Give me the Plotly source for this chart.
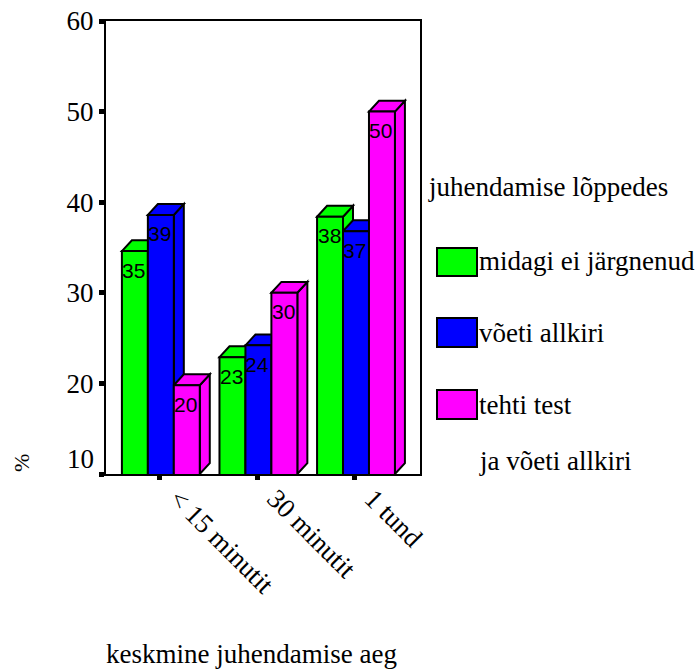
import plotly.graph_objects as go

categories = ["< 15 minutit", "30 minutit", "1 tund"]
series_names = ["midagi ei järgnenud", "võeti allkiri", "tehti test"]
series_colors = ["#00ff00", "#0000ff", "#ff00ff"]
values_green = [34.6, 22.9, 38.4]
values_blue = [38.6, 24.2, 36.8]
values_magenta = [19.8, 30.0, 50.0]
labels_green = ["35", "23", "38"]
labels_blue = ["39", "24", "37"]
labels_magenta = ["20", "30", "50"]
y_ticks = [10, 20, 30, 40, 50, 60]

series_values = [values_green, values_blue, values_magenta]
series_labels = [labels_green, labels_blue, labels_magenta]

W, H = 698, 669
L, R, T, B = 106, 420, 21, 474
SERIF = "Liberation Serif"
SANS = "Liberation Sans"
LW = 2
BAR_W = 0.266
OFFSETS = [-0.385, -0.119, 0.147]
DX = 0.1025
DY = 1.2

fig = go.Figure()
shapes = []
annotations = []

for s, (name, color, vals, labs) in enumerate(zip(series_names, series_colors, series_values, series_labels)):
    fig.add_trace(go.Bar(
        x=categories, y=vals, name=name, width=BAR_W, offset=OFFSETS[s],
        marker=dict(color=color, line=dict(color="black", width=LW)),
        showlegend=False, hoverinfo="x+y+name",
    ))

# depth faces, drawn underneath the front faces, left to right
for c, cat in enumerate(categories):
    for s, (color, vals, labs) in enumerate(zip(series_colors, series_values, series_labels)):
        x0 = c + OFFSETS[s]
        x1 = x0 + BAR_W
        v = vals[c]
        top = f"M {x0} {v} L {x0+DX} {v+DY} L {x1+DX} {v+DY} L {x1} {v} Z"
        side = f"M {x1} 10 L {x1+DX} {10+DY} L {x1+DX} {v+DY} L {x1} {v} Z"
        for p in (side, top):
            shapes.append(dict(type="path", path=p, xref="x", yref="y", layer="below",
                               fillcolor=color, line=dict(color="black", width=LW)))
        annotations.append(dict(x=x0 + BAR_W / 2, y=v, xref="x", yref="y", text=labs[c],
                                showarrow=False, yshift=-19, xshift=-1,
                                font=dict(family=SANS, size=21, color="black")))

def px(x): return (x - L) / (R - L)
def py(y): return (B - y) / (B - T)

def text(x, y, t, size=27, anchor="left", angle=0):
    annotations.append(dict(x=px(x), y=py(y), xref="paper", yref="paper", text=t, showarrow=False,
                            xanchor=anchor, yanchor="middle", textangle=angle, xshift=0,
                            borderpad=0, borderwidth=0,
                            font=dict(family=SERIF, size=size, color="black")))

text(428, 187, "juhendamise lõppedes", size=27)
legend_rows = [(261, 248, 276), (333, 318, 347), (405, 390, 419)]
for (yt, y0, y1), name, color in zip(legend_rows, series_names, series_colors):
    shapes.append(dict(type="rect", xref="paper", yref="paper", x0=px(437), x1=px(477),
                       y0=py(y1), y1=py(y0), fillcolor=color, line=dict(color="black", width=2)))
    text(479, yt, name, size=27)
text(479, 461, "ja võeti allkiri", size=27)
text(21, 463, "%", size=22, anchor="center", angle=-90)
text(251.5, 654, "keskmine juhendamise aeg", size=27, anchor="center")
text(80.5, 459, "10", size=27, anchor="center")

fig.update_layout(
    width=W, height=H, margin=dict(l=L, r=W - R, t=T, b=H - B, pad=0, autoexpand=False),
    paper_bgcolor="white", plot_bgcolor="white",
    barmode="overlay", shapes=shapes, annotations=annotations, showlegend=False,
)
fig.update_xaxes(
    type="category", categoryorder="array", categoryarray=categories,
    range=[-0.548, 2.67], showgrid=False, zeroline=False, automargin=False,
    showline=True, mirror=True, linecolor="black", linewidth=2,
    ticks="outside", ticklen=4, tickwidth=5, tickcolor="black",
    tickangle=45, ticklabelshift=18, ticklabelstandoff=-8,
    tickfont=dict(family=SERIF, size=27, color="black"),
)
fig.update_yaxes(
    range=[10, 60], tickmode="array", tickvals=y_ticks,
    ticktext=[""] + [str(t) for t in y_ticks[1:]],
    showgrid=False, zeroline=False, automargin=False,
    showline=True, mirror=True, linecolor="black", linewidth=2,
    ticks="outside", ticklen=5, tickwidth=5, tickcolor="black",
    tickfont=dict(family=SERIF, size=27, color="black"),
)
fig.write_html("out.html", post_script="document.body.style.margin='0';",
               config={"displayModeBar": False})
